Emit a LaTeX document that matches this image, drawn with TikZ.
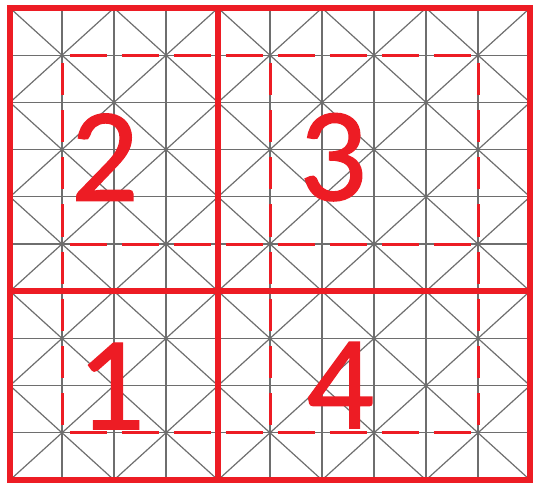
\documentclass[tikz,border=0pt]{standalone}
\usepackage{fontspec}
\newfontfamily\digitfont[FakeBold=1]{Carlito}
\definecolor{gridred}{RGB}{237,28,36}
\definecolor{gridgray}{RGB}{110,110,110}
\begin{document}
\begin{tikzpicture}[x=52pt,y=-47.2pt,
  gridline/.style={draw=gridgray, line width=1.3pt},
  diagline/.style={draw=gridgray, line width=1.2pt},
  redthick/.style={draw=gridred, line width=6pt},
  reddash/.style={draw=gridred, line width=3pt, shorten >=7.5pt, shorten <=7.5pt},
  digit/.style={text=gridred, font=\digitfont\fontsize{134}{134}\selectfont, inner sep=0pt}]
\useasboundingbox (-10pt,8pt) rectangle (523pt,-476pt);
% gray square grid
\foreach \i in {1,...,9} {
  \draw[gridline] (\i,0) -- (\i,10);
  \draw[gridline] (0,\i) -- (10,\i);
}
% gray diagonals
\foreach \k in {0,2,4,6,8} {
  \draw[diagline] (\k,0) -- (10,10-\k);
}
\foreach \k in {2,4,6,8} {
  \draw[diagline] (0,\k) -- (10-\k,10);
  \draw[diagline] (10,\k) -- (\k,10);
}
\foreach \s in {2,4,6,8,10} {
  \draw[diagline] (\s,0) -- (0,\s);
}
% red dashed guide lines
\foreach \j in {1,5,9} {
  \foreach \i in {1,...,8} {
    \draw[reddash] (\i,\j) -- (\i+1,\j);
    \draw[reddash] (\j,\i) -- (\j,\i+1);
  }
}
% thick red frame and dividers
\draw[redthick] (0,0) rectangle (10,10);
\draw[redthick] (4,0) -- (4,10);
\draw[redthick] (0,6) -- (10,6);
% digits
\node[digit] (d2) at (1.82,3.16) {2};
\node[digit] (d3) at (6.21,3.16) {3};
\node[digit] (d1) at (1.94,8.01) {1};
\node[digit] (d4) at (6.35,7.99) {4};
\end{tikzpicture}
\end{document}
